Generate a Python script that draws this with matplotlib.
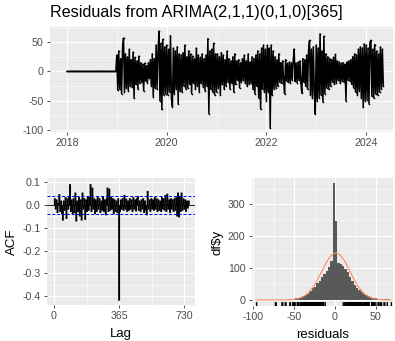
import numpy as np
import matplotlib.pyplot as plt
import matplotlib.transforms as mtransforms

plt.rcParams['font.family'] = ['Liberation Sans', 'DejaVu Sans']
plt.rcParams['axes.unicode_minus'] = False

# residuals, one reading per week (first year is all zero: seasonal differencing)
res_2018 = [0.0] * 52
res_2019 = [28, -32, 35, -30, 22, -38, 40, 57, -35, 30, -28, 25, -33, 38, -25, 20, -27, 33, -45, 24,
            -22, 18, -30, 26, -20, 15, -18, 12, -33, 14, -16, 10, -19, 15, -12, 20, -25, 30, -43, 22,
            -28, 45, -30, 35, 69, -50, 48, -65, 55, -40, 42, -38]
res_2020 = [45, -40, 38, -35, 61, -45, -60, 40, -38, 35, -30, 42, -55, 30, -33, 28, -35, 32, -25, 45,
            -30, 25, -28, 35, -22, 30, -38, 26, -20, 22, -30, 40, -25, 28, -35, 24, -20, 30, -26, 22,
            -33, 28, -25, 56, -72, 35, -30, 38, -35, 48, -40, 30]
res_2021 = [-35, 30, -28, 25, -40, 32, -22, 28, -30, 20, -25, 35, -18, 22, -30, 18, -20, 25, -35, 30,
            -22, 18, -15, 20, -28, 15, -18, 22, -15, 28, -20, 18, -25, 30, -22, 16, -20, 25, -30, 22,
            -38, 28, -25, 35, -45, 30, -64, 40, -30, 45, -35, 38]
res_2022 = [-50, 45, -35, 40, -96, 45, -40, 35, -30, 25, -28, 20, -25, 30, -18, 15, -20, 18, -15, -38,
            20, -16, 14, -18, 16, -20, 15, -14, 18, 38, -17, 14, -19, 16, -15, 18, -20, -37, 22, -18,
            20, -25, 28, -30, 35, 53, -40, 38, -45, 42, -35, -73]
res_2023 = [45, -50, 40, -45, 64, -40, 35, -52, 60, -38, 30, -28, 25, -30, 22, -25, 20, -18, 24, -22,
            29, -20, 18, -15, 16, -20, 14, -17, 15, -18, 12, -50, 16, -14, 18, -16, 20, -22, 25, -28,
            30, -35, 28, -40, 38, -33, 42, -45, 40, -61, 47, -50]
res_2024 = [45, -48, 40, -55, 50, 53, -42, 38, -45, 46, -38, 35, -40, 30, -35, 42, -30, 38, -25]

# ACF of residuals, every 5th lag from 5 to 755
acf_vals = [0.03, -0.02, 0.025, -0.035, 0.01, 0.048, -0.03, 0.02, -0.04, -0.068,
            0.02, -0.025, 0.035, -0.061, 0.03, -0.02, 0.04, 0.092, -0.03, 0.025,
            -0.04, 0.03, -0.035, 0.055, -0.072, 0.02, -0.03, 0.035, -0.05, 0.025,
            -0.068, 0.055, -0.02, 0.03, -0.065, 0.025, -0.03, 0.04, -0.025, 0.035,
            0.092, -0.03, 0.077, -0.02, 0.03, -0.04, 0.025, -0.03, 0.035, -0.02,
            0.03, -0.035, 0.02, -0.025, 0.04, -0.03, 0.025, -0.045, 0.03, 0.077,
            -0.03, 0.072, -0.025, 0.035, -0.02, 0.03, -0.04, 0.025, -0.03, 0.02, -0.035, 0.03,
            -0.42,
            -0.03, 0.025, -0.02, 0.03, -0.025, 0.045, -0.02, 0.028, -0.03, 0.02,
            -0.025, 0.03, -0.02, 0.025, -0.03, 0.035, -0.02, 0.025, -0.028, 0.03,
            0.04, -0.025, 0.02, -0.03, 0.025, -0.02, 0.03, -0.035, 0.02, -0.025,
            -0.045, 0.062, -0.02, 0.025, -0.03, 0.03, -0.02, 0.025, -0.025, 0.035,
            -0.02, 0.03, -0.03, 0.025, -0.025, 0.02, -0.03, 0.035, -0.02, 0.03,
            -0.025, 0.045, -0.03, 0.05, -0.02, 0.025, -0.035, 0.03, -0.02, 0.025,
            -0.03, 0.03, -0.025, 0.035, -0.05, 0.055, -0.054, 0.04, -0.03, 0.055,
            -0.025, 0.03, -0.02, 0.025, -0.03, 0.02, -0.015, 0.02]
acf_lags = np.arange(5, 760, 5)
acf_ci = 0.041

# histogram of residuals: bin width 2.85, first bin starts at -96.9
bin_w = 2.85
hist_counts = [1, 0, 0, 0, 0, 0, 0, 0, 1, 0, 0, 1, 1, 1, 2, 2, 3, 5, 6, 8,
               11, 14, 20, 27, 36, 42, 52, 60, 72, 82, 92, 104, 122, 367, 249, 116, 112, 108, 96, 88,
               72, 60, 46, 36, 30, 24, 19, 15, 12, 9, 7, 5, 4, 3, 3, 2, 2, 1]
bin_start = -96.9

resid = np.array(res_2018 + res_2019 + res_2020 + res_2021 + res_2022 + res_2023 + res_2024, float)
t = 2018 + np.arange(len(resid)) / 52


def gg(ax, xmaj, xmin, ymaj, ymin):
    ax.set_facecolor('#EBEBEB')
    for s in ax.spines.values():
        s.set_visible(False)
    ax.set_xticks(xmaj)
    ax.set_xticks(xmin, minor=True)
    ax.set_yticks(ymaj)
    ax.set_yticks(ymin, minor=True)
    ax.grid(which='major', color='white', lw=0.8)
    ax.grid(which='minor', color='white', lw=0.4)
    ax.tick_params(which='major', length=2.5, width=0.6, color='#333333',
                   labelcolor='#4D4D4D', labelsize=7.7, pad=2)
    ax.tick_params(which='minor', length=0)
    ax.set_axisbelow(True)


fig = plt.figure(figsize=(3.95, 3.41), dpi=100)

# top: residual series
ax1 = fig.add_axes([50 / 395, 1 - 132 / 341, 343 / 395, 105 / 341])
gg(ax1, [2018, 2020, 2022, 2024], [2019, 2021, 2023], [-100, -50, 0, 50], [-75, -25, 25, 75])
ax1.plot(t, resid, color='black', lw=1.1, marker='o', ms=1.2, mew=0)
ax1.set_xlim(2017.66, 2024.54)
ax1.set_ylim(-103.5, 76)
fig.text(50 / 395, 1 - 13 / 341, 'Residuals from ARIMA(2,1,1)(0,1,0)[365]',
         fontsize=11.6, va='center', ha='left')

# bottom left: ACF
ax2 = fig.add_axes([47 / 395, 1 - 305 / 341, 148 / 395, 127 / 341])
gg(ax2, [0, 365, 730], [182.5, 547.5], [0.1, 0.0, -0.1, -0.2, -0.3, -0.4],
   [0.05, -0.05, -0.15, -0.25, -0.35])
ax2.set_yticklabels(['0.1', '0.0', '-0.1', '-0.2', '-0.3', '-0.4'])
ax2.vlines(acf_lags, 0, acf_vals, color='black', lw=1.4, snap=False)
ax2.axhline(0, color='black', lw=0.6)
ax2.axhline(acf_ci, color='blue', lw=0.7, ls=(0, (3, 2)))
ax2.axhline(-acf_ci, color='blue', lw=0.7, ls=(0, (3, 2)))
ax2.set_xlim(-39, 790)
ax2.set_ylim(-0.439, 0.119)
ax2.set_xlabel('Lag', fontsize=9.5, labelpad=5)
ax2.set_ylabel('ACF', fontsize=9.5, labelpad=3)

# bottom right: histogram
ax3 = fig.add_axes([251.7 / 395, 1 - 306 / 341, 141.3 / 395, 128 / 341])
gg(ax3, [-100, -50, 0, 50], [-75, -25, 25], [0, 100, 200, 300], [50, 150, 250, 350])
edges = bin_start + bin_w * np.arange(len(hist_counts) + 1)
ax3.bar(edges[:-1], hist_counts, width=bin_w, align='edge', color='#595959', lw=0)
mids = edges[:-1] + bin_w / 2
cnt = np.array(hist_counts, float)
n = cnt.sum()
mu = (cnt * mids).sum() / n
sd = np.sqrt((cnt * (mids - mu) ** 2).sum() / n)
xs = np.linspace(edges[0], edges[-1], 300)
ax3.plot(xs, n * bin_w * np.exp(-0.5 * ((xs - mu) / sd) ** 2) / (sd * np.sqrt(2 * np.pi)),
         color='#ff8a62', lw=0.8)
rug = mtransforms.blended_transform_factory(ax3.transData, ax3.transAxes)
ax3.vlines(resid[52:], 0, 0.03, transform=rug, color='black', lw=1.0, snap=False)
ax3.set_xlim(-102, 71)
ax3.set_ylim(-19, 383)
ax3.set_xlabel('residuals', fontsize=9.5, labelpad=5)
ax3.set_ylabel('df$y', fontsize=9.5, labelpad=3)

fig.savefig('out.png', dpi=100)
